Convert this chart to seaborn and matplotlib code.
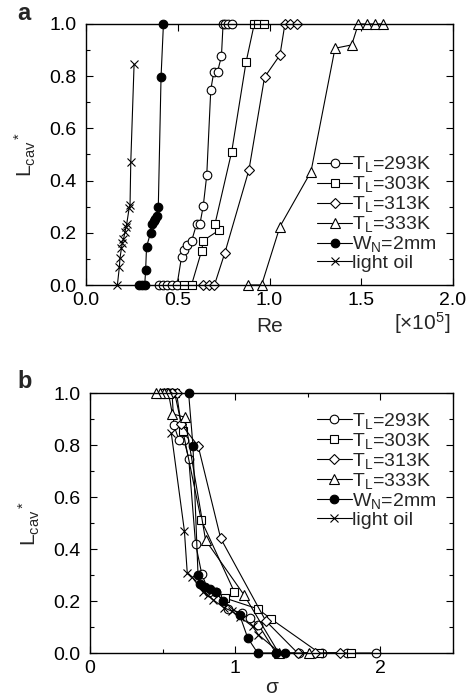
import matplotlib
matplotlib.use("Agg")
import matplotlib.pyplot as plt
import seaborn as sns
import pandas as pd
from matplotlib.ticker import MultipleLocator

# ---------------- data ----------------
labels = ["T$_L$=293K", "T$_L$=303K", "T$_L$=313K", "T$_L$=333K", "W$_N$=2mm", "light oil"]

# T_L = 293 K (open circles)
L_293 = [0, 0, 0, 0, 0, 0.109, 0.134, 0.153, 0.170, 0.234, 0.234, 0.303, 0.42, 0.748, 0.818, 0.818, 0.876, 1, 1, 1, 1]
re_293 = [0.400, 0.422, 0.443, 0.467, 0.496, 0.521, 0.534, 0.549, 0.576, 0.603, 0.621, 0.639, 0.658, 0.680, 0.697, 0.717, 0.738, 0.747, 0.760, 0.774, 0.796]
sig_293 = [1.97, 1.77, 1.60, 1.44, 1.28, 1.16, 1.10, 1.05, 0.95, 0.87, 0.82, 0.77, 0.727, 0.68, 0.648, 0.613, 0.578, 0.565, 0.545, 0.526, 0.50]

# T_L = 303 K (open squares)
L_303 = [0, 0, 0.131, 0.170, 0.211, 0.234, 0.511, 0.853, 1, 1, 1]
re_303 = [0.535, 0.575, 0.630, 0.639, 0.727, 0.703, 0.794, 0.872, 0.917, 0.939, 0.972]
sig_303 = [1.80, 1.58, 1.247, 1.155, 0.931, 0.995, 0.766, 0.64, 0.583, 0.556, 0.519]

# T_L = 313 K (open diamonds)
L_313 = [0, 0, 0, 0.124, 0.441, 0.796, 0.881, 1, 1, 1]
re_313 = [0.639, 0.672, 0.700, 0.757, 0.888, 0.973, 1.057, 1.084, 1.112, 1.148]
sig_313 = [1.72, 1.55, 1.43, 1.21, 0.90, 0.745, 0.627, 0.596, 0.566, 0.531]

# T_L = 333 K (open triangles)
L_333 = [0, 0, 0.224, 0.434, 0.907, 0.920, 1, 1, 1, 1]
re_333 = [0.885, 0.957, 1.057, 1.226, 1.357, 1.448, 1.484, 1.530, 1.575, 1.620]
sig_333 = [1.51, 1.30, 1.06, 0.796, 0.652, 0.567, 0.54, 0.508, 0.48, 0.457]

# W_N = 2 mm (filled circles)
L_wn = [0, 0, 0, 0.057, 0.147, 0.200, 0.235, 0.245, 0.252, 0.264, 0.300, 0.798, 1.0]
re_wn = [0.289, 0.305, 0.320, 0.325, 0.330, 0.352, 0.358, 0.368, 0.376, 0.385, 0.394, 0.409, 0.422]
sig_wn = [1.34, 1.28, 1.155, 1.087, 1.03, 0.915, 0.87, 0.824, 0.789, 0.755, 0.744, 0.709, 0.679]

# light oil (crosses)
L_oil = [0, 0.070, 0.102, 0.140, 0.160, 0.175, 0.204, 0.223, 0.234, 0.294, 0.306, 0.470, 0.845]
re_oil = [0.171, 0.182, 0.185, 0.193, 0.198, 0.204, 0.213, 0.218, 0.222, 0.235, 0.240, 0.244, 0.262]
sig_oil = [1.31, 1.16, 1.12, 1.03, 0.98, 0.92, 0.85, 0.81, 0.78, 0.70, 0.67, 0.65, 0.56]

a_xticks = [0.0, 0.5, 1.0, 1.5, 2.0]
b_xticks = [0, 1, 2]
yticks = [0.0, 0.2, 0.4, 0.6, 0.8, 1.0]

series = [
    (labels[0], L_293, re_293, sig_293, dict(marker="o", mfc="white", ms=6.2)),
    (labels[1], L_303, re_303, sig_303, dict(marker="s", mfc="white", ms=6.2)),
    (labels[2], L_313, re_313, sig_313, dict(marker="D", mfc="white", ms=5.2)),
    (labels[3], L_333, re_333, sig_333, dict(marker="^", mfc="white", ms=7.2)),
    (labels[4], L_wn, re_wn, sig_wn, dict(marker="o", mfc="black", ms=6.2)),
    (labels[5], L_oil, re_oil, sig_oil, dict(marker="x", mfc="black", ms=5.5)),
]

# ---------------- style ----------------
sns.set_style("ticks")
plt.rcParams["font.family"] = ["Liberation Sans", "DejaVu Sans"]
plt.rcParams["mathtext.fontset"] = "custom"
plt.rcParams["mathtext.rm"] = "Liberation Sans"
plt.rcParams["mathtext.it"] = "Liberation Sans"
plt.rcParams["mathtext.default"] = "regular"

fig = plt.figure(figsize=(4.71, 7.0), dpi=100)
ax_a = fig.add_axes([86 / 471, 1 - 285 / 700, 367 / 471, 261 / 700])
ax_b = fig.add_axes([90 / 471, 1 - 653 / 700, 363 / 471, 260 / 700])


def draw(ax, xkey):
    for lab, L, re, sig, st in series:
        df = pd.DataFrame({"x": re if xkey == "re" else sig, "L": L})
        sns.lineplot(data=df, x="x", y="L", ax=ax, sort=False, estimator=None,
                     color="black", linewidth=0.8, marker=st["marker"],
                     markersize=st["ms"], markerfacecolor=st["mfc"],
                     markeredgecolor="black", markeredgewidth=0.8,
                     label=lab, clip_on=False)


def style(ax):
    for s in ax.spines.values():
        s.set_linewidth(1.0)
        s.set_color("black")
    ax.tick_params(which="both", direction="in", top=True, right=True,
                   labelsize=14, colors="black")
    ax.tick_params(which="major", length=5, width=0.8)
    ax.tick_params(which="minor", length=3, width=0.8)
    ax.tick_params(axis="y", which="major", pad=7)
    ax.tick_params(axis="x", which="major", pad=5)
    ax.set_ylim(0, 1.0)
    ax.set_yticks(yticks)
    ax.yaxis.set_minor_locator(MultipleLocator(0.1))
    ax.set_ylabel("L$_{cav}$$^*$", fontsize=15, labelpad=8)


draw(ax_a, "re")
draw(ax_b, "sig")
style(ax_a)
style(ax_b)

ax_a.set_xlim(0, 2.0)
ax_a.set_xticks(a_xticks)
ax_a.set_xticklabels(["0.0", "0.5", "1.0", "1.5", "2.0"])
ax_a.set_xlabel("Re", fontsize=15, labelpad=6)
ax_a.text(0.915, -0.145, r"[$\times$10$^5$]", transform=ax_a.transAxes,
          fontsize=15, ha="center", va="center")

ax_b.set_xlim(0, 2.5)
ax_b.set_xticks(b_xticks)
ax_b.set_xticklabels(["0", "1", "2"])
ax_b.xaxis.set_minor_locator(MultipleLocator(0.5))
ax_b.set_xlabel("σ", fontsize=15, labelpad=1)

leg_kw = dict(frameon=False, fontsize=14, handlelength=1.8, handletextpad=0.0,
              labelspacing=0.0, borderpad=0.0, borderaxespad=0.0)
ax_a.legend(loc="lower left", bbox_to_anchor=(0.63, 0.05), **leg_kw)
ax_b.legend(loc="upper left", bbox_to_anchor=(0.625, 0.93), **leg_kw)

fig.text(17 / 471, 1 - 14 / 700, "a", fontsize=17, fontweight="bold", va="center")
fig.text(17 / 471, 1 - 382 / 700, "b", fontsize=17, fontweight="bold", va="center")

fig.savefig("out.png", dpi=100)
